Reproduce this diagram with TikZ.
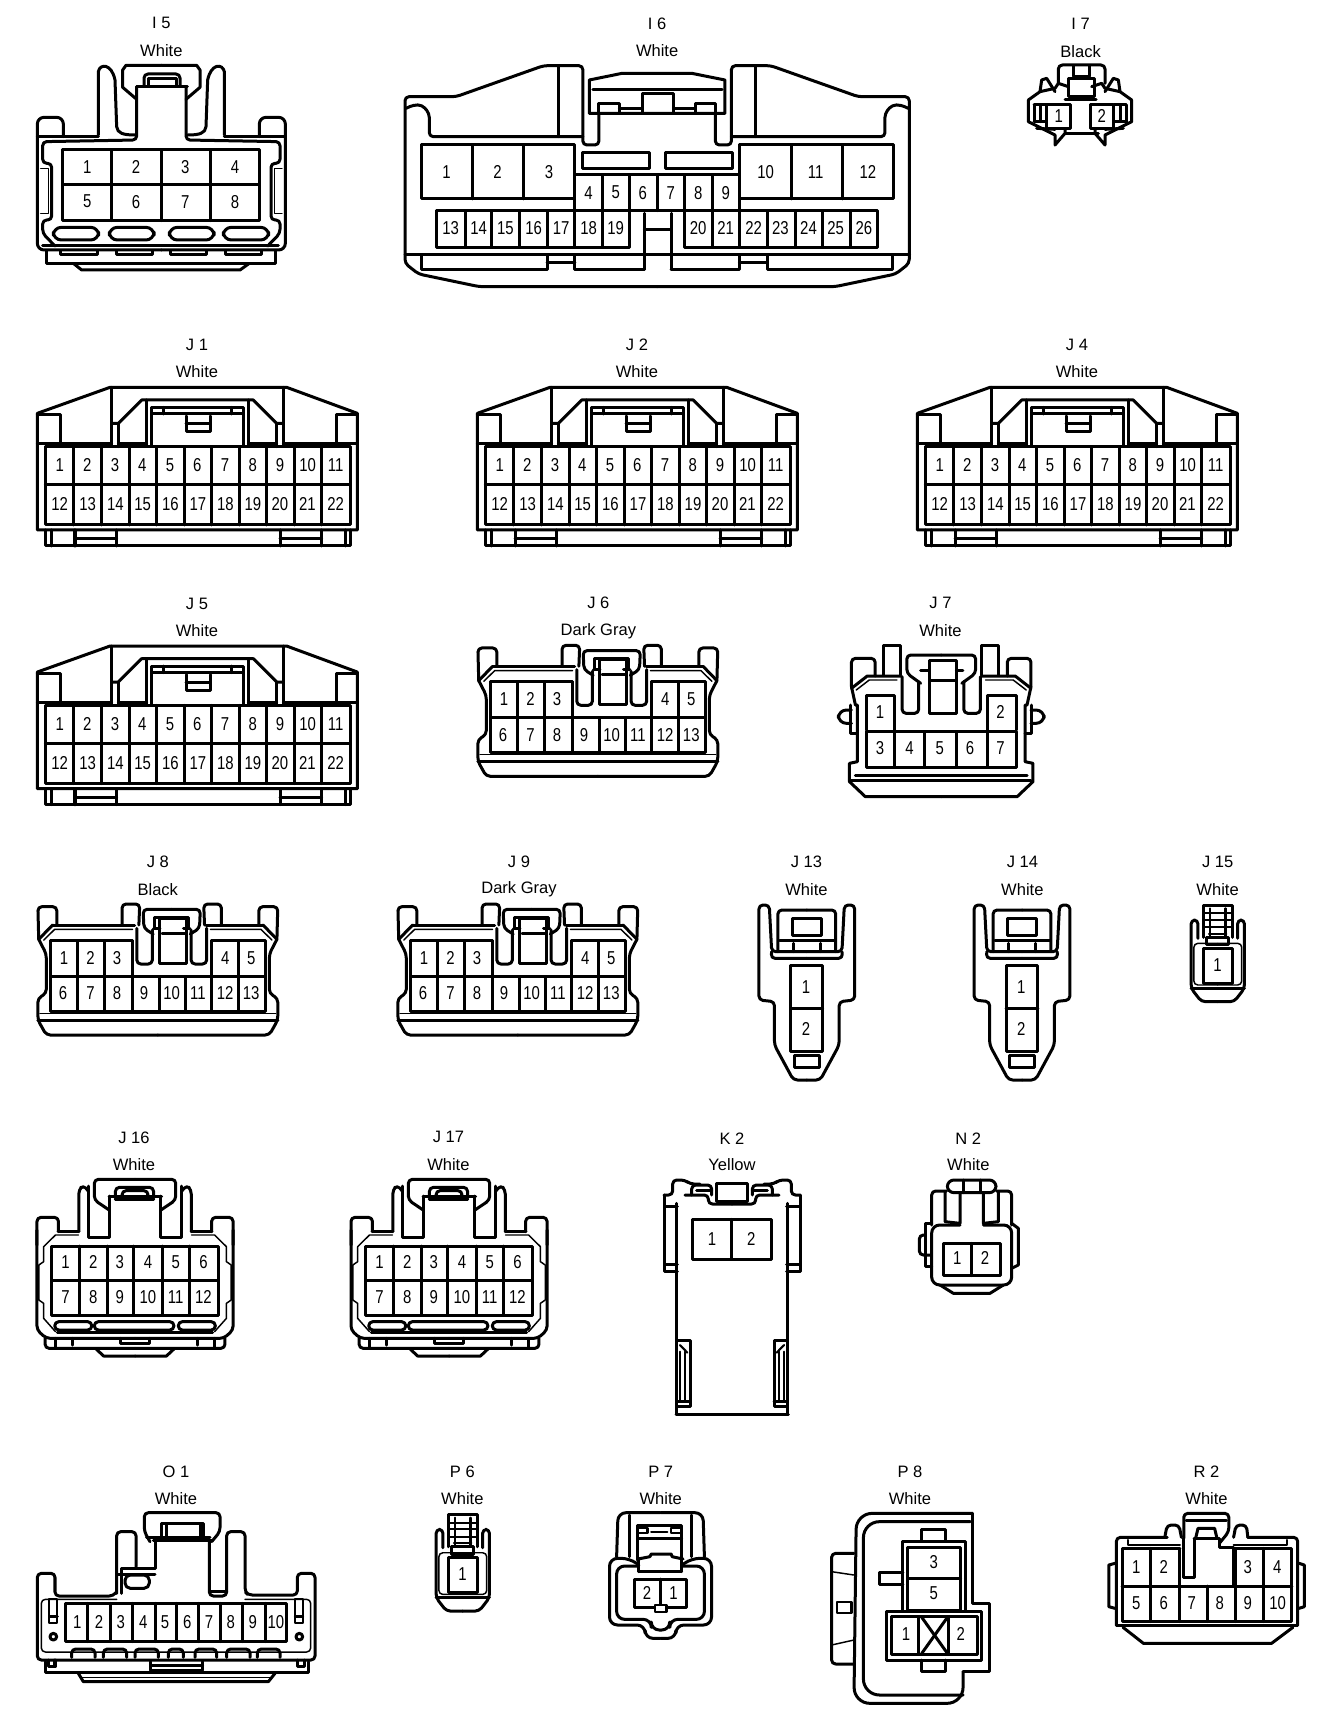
\documentclass[tikz,border=0pt]{standalone}
\usepackage{graphicx}
\usepackage{fontspec}
\setmainfont{Liberation Sans}
\newcount\nc
\tikzset{
  crop/.style n args={3}{shift={(#1,#2)},xscale=#3,yscale=1/3},
  numn/.style={inner sep=0pt,font=\fontsize{14}{14}\selectfont},
  labn/.style={inner sep=0pt,font=\fontsize{12.4}{12.4}\selectfont},
  tn/.style={line width=1.1pt},
  md/.style={line width=1.6pt},
  rc/.style={rounded corners=3pt}
}
\newcommand\nm[3]{\global\advance\nc by 1\relax\node[numn] (n\the\nc) at (#1,#2) {\scalebox{.8}[1]{#3}};}
\newcommand\nmrow[2]{\foreach \xa/\tx in {#2}{\nm{\xa}{#1}{\tx}}}
\newcommand\lab[5]{\global\advance\nc by 1\relax\node[labn] (n\the\nc) at (#1,#2) {#4};\global\advance\nc by 1\relax\node[labn] (n\the\nc) at (#1,#3) {#5};}
\newcommand\mir[2]{#2\begin{scope}[shift={(2*#1,0)},xscale=-1]#2\end{scope}}
\newcommand\vl[3]{\foreach \xa in {#1}{\draw (\xa,#2)--(\xa,#3);}}
% ---- J1 family
\newcommand\JB[2]{\begin{scope}[crop={#1}{330+#2}{1/3}]
\draw (112,600)--(112,250)--(330,172)--(860,172)--(1072,250)--(1072,600)--cycle;
\draw (112,255)--(180,255)--(180,338);
\draw (1072,255)--(1008,255)--(1008,338);
\draw (112,340)--(335,340);\draw (850,340)--(1072,340);
\draw[rc] (335,345)--(335,172);\draw[rc] (850,345)--(850,172);
\draw (335,280)--(355,280)--(425,210)--(760,210)--(830,280)--(850,280);
\draw (355,280)--(355,350);\draw (830,280)--(830,350);
\draw (355,342)--(440,342);\draw (745,342)--(830,342);
\draw (440,210)--(440,345);\draw (745,210)--(745,345);
\draw (455,345)--(455,232)--(730,232)--(730,345);
\draw (455,252)--(730,252);\vl{490,695}{232}{252}
\draw (558,258)--(558,305)--(630,305)--(630,258);\draw (558,280)--(630,280);
\draw (136,350) rectangle (1050,585);\draw (136,465)--(1050,465);
\vl{220,305,388,470,553,635,718,800,883,965}{350}{585}
\nmrow{405}{179/1,262/2,345/3,427/4,510/5,592/6,675/7,758/8,840/9,923/10,1007/11}
\nmrow{522}{179/12,263/13,346/14,428/15,511/16,594/17,676/18,759/19,840/20,922/21,1007/22}
\draw (136,600)--(136,648)--(1050,648)--(1050,600);
\vl{155,225,350,840,965,1035}{600}{648}
\draw (225,625)--(350,625);\draw (840,625)--(965,625);
\end{scope}}
% ---- J8 family
\newcommand\JE[2]{\begin{scope}[crop={#1}{#2}{1/2.376}]
\draw (315,340)--(315,272)--(120,272)--(120,485)--(630,485)--(630,272)--(503,272)--(503,340);
\draw (120,380)--(630,380);\vl{183,248,315,503,567}{272}{485}\vl{378,440}{380}{485}
\draw (380,205)--(380,340)--(442,340)--(442,205)--cycle;\draw (385,250)--(440,250);
\nmrow{323}{152/1,215/2,278/3,535/4,597/5}
\nmrow{430}{150/6,215/7,278/8,342/9,408/10,470/11,535/12,597/13}
\mir{408}{
\draw[rc] (325,235)--(325,342)--(362,342)--(362,240);
\draw[rc] (408,178)--(340,178)--(342,235)--(364,252);
\draw (365,235)--(380,235);
\draw (408,202)--(368,202)--(368,235);
\draw[rc] (290,225)--(290,162)--(332,162)--(330,225);
}
\mir{375}{
\draw (92,268)--(125,225);
\draw[rc] (92,268)--(90,170)--(135,170)--(135,225);
\draw[rc] (92,268)--(110,312)--(110,430)--(90,445)--(90,510)--(110,555)--(375,555);
\draw[tn] (95,490)--(375,490);\draw (90,510)--(375,510);
}
\draw (125,225)--(320,225);\draw (490,225)--(625,225);
\draw[tn] (104,270)--(130,238)--(315,238);\draw[tn] (646,270)--(620,238)--(500,238);
\end{scope}}
% ---- J13 family
\newcommand\JT[2]{\begin{scope}[crop={#1}{#2}{1/2.904}]
\draw (148,345) rectangle (240,605);\draw (148,475)--(240,475);
\nm{192}{410}{1}\nm{192}{537}{2}
\draw (158,615) rectangle (230,652);
\draw (152,205) rectangle (236,255);\draw (115,270)--(275,270);
\mir{194}{
\draw[rc] (194,690)--(155,690)--(100,585)--(100,455)--(55,450)--(55,165)--(85,165)--(92,305)--(194,305);
\draw[rc] (92,305)--(90,325)--(194,325);
\draw[rc] (110,305)--(110,180)--(194,180);
\draw (155,280)--(155,305);
}
\end{scope}}
% ---- J15 family
\newcommand\JF[2]{\begin{scope}[crop={#1}{#2}{1/2.904}]
\draw (1345,262)--(1345,165)--(1430,165)--(1430,262);
\draw[md] (1345,190)--(1430,190);\draw[md] (1345,210)--(1430,210);\draw[md] (1345,232)--(1430,232);\draw[md] (1362,252)--(1412,252);
\draw[md] (1365,175)--(1365,262);\draw[md] (1410,175)--(1410,262);
\draw (1356,262) rectangle (1418,284);
\draw (1345,295) rectangle (1430,400);
\nm{1387}{345}{1}
\mir{1387.5}{
\draw[rc] (1330,265)--(1330,210)--(1310,210)--(1310,415)--(1340,455)--(1387.5,455);
\draw[tn,rc] (1387,280)--(1318,280)--(1318,405)--(1387,405);
\draw (1310,415)--(1387,415);
}
\end{scope}}
% ---- J16 family
\newcommand\JS[2]{\begin{scope}[crop={#1}{#2}{1/2.703}]
\draw (140,348) rectangle (590,555);\draw (140,452)--(590,452);
\vl{215,290,362,438,512}{348}{555}
\nmrow{397}{177/1,252/2,324/3,400/4,475/5,550/6}
\nmrow{500}{177/7,252/8,324/9,400/10,475/11,550/12}
\draw[rc] (312,205)--(312,172)--(415,172)--(415,205);
\draw[rc] (330,182) rectangle (400,205);
\draw (295,198)--(437,198);\draw (312,208)--(415,208);
\draw[rc] (255,575) rectangle (470,600);
\draw (325,625)--(325,640)--(405,640)--(405,625);
\mir{365}{
\draw[rc] (295,240)--(255,210)--(255,148)--(365,148);
\draw (295,198)--(295,322)--(240,322)--(240,168);
\draw[rc] (240,185)--(225,165)--(213,180)--(213,305);
\draw (157,305)--(213,305);
\draw[rc] (100,345)--(100,262)--(158,262)--(158,305);
\draw[rc] (100,300)--(100,600)--(125,625)--(365,625);
\draw[tn] (212,315)--(150,315)--(118,350)--(118,395)--(105,405)--(105,510)--(118,520)--(118,565)--(150,605);
\draw[rc] (148,575) rectangle (248,600);
\draw (155,607)--(365,607);
\draw[rc] (122,625)--(122,655)--(365,655);
\draw (150,625)--(150,655);\draw (195,625)--(195,645);
\draw (258,655)--(280,678)--(365,678);
}
\end{scope}}
\begin{document}
\begin{tikzpicture}[x=.75pt,y=-.75pt,line width=2.25pt,line join=round,line cap=round]
\useasboundingbox (0,0) rectangle (1344,1726);
\fill[white] (0,0) rectangle (1344,1726);
% ---------- I5
\begin{scope}[crop={0}{0}{1/3}]
\lab{484}{70}{153}{I 5}{White}
\draw (188,450) rectangle (778,662);\draw (188,555)--(778,555);\vl{335,484,630}{450}{662}
\nmrow{500}{262/1,408/2,556/3,705/4}\nmrow{605}{262/5,408/6,556/7,705/8}
\draw[rc] (432,255)--(432,222)--(540,222)--(540,255);\draw (445,236)--(528,236);\draw (445,236)--(445,255);\draw (528,236)--(528,255);
\draw (410,260)--(562,260);
\draw[rounded corners=6pt] (160,682) rectangle (296,720);\draw[rounded corners=6pt] (328,682) rectangle (462,720);
\draw[rounded corners=6pt] (508,682) rectangle (642,720);\draw[rounded corners=6pt] (670,682) rectangle (806,720);
\draw (128,738)--(835,738);
\draw (140,752)--(140,790)--(825,790)--(825,752);
\draw (182,752)--(182,765)--(292,765)--(292,752);\draw (350,752)--(350,765)--(458,765)--(458,752);
\draw (512,752)--(512,765)--(618,765)--(618,752);\draw (675,752)--(675,765)--(785,765)--(785,752);
\draw (220,790)--(245,810)--(720,810)--(748,790);
\mir{484}{
\draw (295,405)--(295,215) .. controls (300,190) and (335,190) .. (345,240)--(350,380) .. controls (352,400) and (370,405) .. (405,405);
\draw (410,298)--(368,262)--(368,210)--(378,196)--(484,196);
\draw[rc] (410,260)--(410,420)--(128,425)--(128,490)--(155,490)--(155,660)--(128,660)--(128,700)--(165,738);
\draw[tn] (122,505)--(145,505)--(145,640)--(122,640);
\draw (112,410)--(295,410);
\draw[rounded corners=5pt] (190,410)--(190,352)--(112,352)--(112,750)--(484,750);
}
\end{scope}
% ---------- I6
\begin{scope}[crop={390}{0}{1/2.8}]
\lab{748}{70}{153}{I 6}{White}
\draw (558,340)--(558,240)--(650,220)--(845,220)--(938,240)--(938,340)--cycle;
\draw (568,268)--(930,268);
\draw (706,335)--(706,280)--(795,280)--(795,335);
\draw (585,340)--(585,310)--(642,310)--(642,335);\draw (912,340)--(912,310)--(855,310)--(855,335);
\draw (642,325)--(706,325);\draw (795,325)--(855,325);
\draw (88,435) rectangle (518,597);\vl{230,373}{435}{597}
\draw (978,435) rectangle (1410,597);\vl{1125,1268}{435}{597}
\nmrow{515}{158/1,301/2,445/3,1052/10,1192/11,1338/12}
\draw (540,458) rectangle (727,505);\draw (772,458) rectangle (960,505);
\draw (518,525)--(978,525);
\vl{518,595,672,748,825,902,978}{525}{632}
\draw (130,632) rectangle (672,742);\vl{210,285,362,440,518,595}{632}{742}
\draw (825,632) rectangle (1365,742);\vl{902,978,1057,1135,1212,1290}{632}{742}
\draw (672,632)--(825,632);
\nmrow{578}{556/4,632/5,708/6,786/7,863/8,940/9}
\nmrow{685}{170/13,248/14,323/15,402/16,479/17,556/18,632/19,863/20,940/21,1018/22,1093/23,1172/24,1248/25,1327/26}
\draw (712,688)--(787,688);
\draw (42,765)--(1455,765);
\draw (88,765)--(88,808)--(440,808)--(440,765);\draw (440,788)--(518,788);\draw (518,765)--(518,808)--(712,808);
\draw (787,808)--(978,808)--(978,765);\draw (978,788)--(1057,788);\draw (1057,765)--(1057,808)--(1408,808)--(1408,765);
\vl{712,787}{640}{808}
\mir{748}{
\draw[rc] (748,860)--(250,860)--(80,822)--(42,790)--(42,290)--(185,290)--(430,197)--(540,197)--(540,435)--(585,435)--(585,340);
\draw[rc] (45,325)--(65,315)--(90,315)--(110,340)--(110,410)--(540,410);
\draw (473,197)--(473,410);
}
\end{scope}
% ---------- I7
\begin{scope}[crop={1020}{50}{1/3}]
\lab{182}{-80}{5}{I 7}{Black}
\draw[rc] (115,100)--(115,45)--(255,45)--(255,100);
\draw (160,48)--(160,80)--(207,80)--(207,48);
\draw (145,85) rectangle (222,140);
\draw (78,165) rectangle (150,235);\draw (210,165) rectangle (280,235);
\nm{116}{198}{1}\nm{245}{198}{2}
\draw (135,150)--(228,150);\draw (135,250)--(235,250);
\mir{180}{
\draw (60,125)--(65,90)--(80,85)--(105,125);
\draw (25,150)--(60,125)--(105,115)--(115,100);
\draw (115,100)--(145,110);
\draw (25,150)--(25,215)--(105,255)--(105,285)--(135,250)--(135,238);
\draw (42,165)--(42,215);\draw (60,165)--(60,215);\draw (42,165)--(78,165);\draw (42,215)--(78,215);
\draw (50,235)--(105,238);
}
\end{scope}
% ---------- J1 J2 J4 J5
\JB{0}{0}\lab{197}{345}{372}{J 1}{White}
\JB{440}{0}\lab{637}{345}{372}{J 2}{White}
\JB{880}{0}\lab{1077}{345}{372}{J 4}{White}
\JB{0}{258.7}\lab{197}{603.7}{630.7}{J 5}{White}
% ---------- J6 J8 J9
\JE{440}{850-258.7}\lab{598.4}{603}{631}{J 6}{Dark Gray}
\JE{0}{850}\lab{157.8}{862}{889.3}{J 8}{Black}
\JE{360}{850}\lab{519}{862}{889.3}{J 9}{Dark Gray}
% ---------- J7
\begin{scope}[crop={460}{590}{1/2.529}]
\lab{1215}{40}{123}{J 7}{White}
\draw (1027,420)--(1027,315)--(1100,315)--(1100,420);
\draw (1335,420)--(1335,315)--(1408,315)--(1408,420);
\draw (1027,425) rectangle (1408,532);\vl{1100,1175,1255,1335}{425}{532}
\nm{1062}{365}{1}\nm{1367}{365}{2}
\nmrow{475}{1062/3,1137/4,1213/5,1290/6,1367/7}
\draw (1187,210) rectangle (1255,370);\draw (1190,270)--(1255,270);
\draw (1165,240)--(1187,240);\draw (1255,240)--(1272,240);
\mir{1217}{
\draw[rc] (1118,260)--(1118,370)--(1160,370)--(1160,275);
\draw[rc] (1217,195)--(1130,195)--(1130,250)--(1165,280);
\draw (1072,255)--(1072,165)--(1115,165)--(1115,255);
\draw[rc] (990,290)--(990,205)--(1050,205)--(1050,258);
\draw (990,295)--(1030,258)--(1115,258);
\draw[tn] (1002,300)--(1035,270)--(1105,270);
\draw (990,290)--(1000,345)--(1005,345)--(1005,515)--(985,520)--(985,575)--(1025,620)--(1217,620);
\draw[rounded corners=6pt] (990,360)--(957,360)--(957,400)--(990,400);
\draw (988,345)--(988,430)--(1005,430);
\draw (1000,555)--(1217,555);\draw (990,572)--(1217,572);
}
\end{scope}
% ---------- J13 J14 J15
\JT{740}{850}\JT{955.2}{850}
\begin{scope}[crop={740}{850}{1/2.904}]
\lab{193}{36}{118}{J 13}{White}\lab{820}{36}{118}{J 14}{White}\lab{1387}{36}{118}{J 15}{White}
\end{scope}
\JF{740}{850}
% ---------- J16 J17
\JS{0}{1130}\JS{314}{1130}
\begin{scope}[crop={0}{1130}{1/2.703}]
\lab{362}{22}{105}{J 16}{White}\lab{1212}{22}{105}{J 17}{White}
\end{scope}
% ---------- K2
\begin{scope}[crop={650}{1130}{1/3}]
\lab{246}{25}{105}{K 2}{Yellow}
\draw (127,268) rectangle (365,388);\draw (245,268)--(245,388);
\nm{186}{327}{1}\nm{304}{327}{2}
\draw (200,160) rectangle (292,215);
\draw (78,852)--(415,852);
\mir{246}{
\draw[rc] (105,195)--(175,195)--(175,222)--(246,222);
\draw[rc] (125,195)--(125,165)--(185,165)--(185,195);
\draw (140,180)--(185,180);
\draw[rc] (42,195)--(68,195)--(68,150)--(105,150)--(120,162)--(150,162);
\draw (42,195)--(42,425)--(82,425);
\draw (45,230)--(82,230);\draw (45,402)--(82,402);
\draw (80,220)--(80,852);
\draw (82,632)--(120,632)--(120,828)--(82,828);
\draw[md] (90,665)--(90,815);\draw[md] (105,665)--(105,815);\draw[md] (90,645)--(112,668);
\draw (82,815)--(120,815);
}
\end{scope}
% ---------- N2
\begin{scope}[crop={650}{1130}{1/3}]
\lab{955}{25}{105}{N 2}{White}
\draw[rounded corners=5pt] (892,150) rectangle (1038,188);\vl{940,990}{150}{188}
\draw[rc] (845,285)--(845,183)--(890,183);\draw (885,185)--(885,275)--(930,280)--(930,188);
\draw (1000,188)--(1000,280)--(1045,275)--(1045,185);\draw[rc] (1040,183)--(1085,183)--(1085,285);
\draw[rounded corners=6pt] (930,285)--(845,285)--(845,465)--(1085,465)--(1085,285)--(1000,285);
\draw (845,280)--(825,280)--(825,410)--(845,410);
\draw[rc] (825,315)--(808,315)--(808,375)--(840,375);
\draw (1085,280)--(1105,295)--(1105,405)--(1085,415);
\draw (870,465)--(910,490)--(1020,490)--(1060,465);
\draw (880,340) rectangle (1050,437);\draw (965,340)--(965,437);
\nm{922}{385}{1}\nm{1005}{385}{2}
\end{scope}
% ---------- O1
\begin{scope}[crop={0}{1460}{1/3}]
\lab{528}{35}{117}{O 1}{White}
\draw[rc] (450,245)--(433,215)--(433,158)--(660,158)--(660,215)--(635,245);
\draw (485,230)--(485,190)--(610,190)--(610,230);\vl{500,600}{195}{228}
\draw (440,232)--(630,232);\draw (460,242)--(635,242);
\draw (465,245)--(465,325)--(365,325)--(365,400);
\draw[rc] (350,400)--(350,215)--(408,215)--(408,320);
\draw[rc] (355,342)--(465,342);
\draw[rounded corners=4pt] (375,345) rectangle (448,385);
\draw[rc] (350,395)--(340,408)--(165,408)--(165,340)--(112,340)--(112,600)--(945,600)--(945,340)--(892,340)--(892,405)--(745,405)--(735,395)--(735,215)--(680,215)--(680,408)--(628,408)--(628,245);
\draw (632,395)--(680,395);
\draw[tn,rc] (350,418)--(124,418)--(124,576)--(932,576)--(932,418)--(735,418);
\draw (195,430) rectangle (860,545);\vl{262,330,398,465,530,595,662,728,795}{430}{545}
\nmrow{487}{232/1,297/2,362/3,430/4,495/5,562/6,627/7,692/8,758/9,828/10}
\foreach \a/\b in {215/285,310/380,405/475,505/550,585/650,680/750,772/840}{\draw[rc] (\a,592)--(\a,567)--(\b,567)--(\b,592);}
\draw (135,605)--(135,637)--(925,637)--(925,605);
\draw (145,600)--(145,620)--(165,620)--(165,600);\draw (892,600)--(892,620)--(912,620)--(912,600);
\draw (452,605)--(452,630)--(608,630)--(608,605);\draw (452,617)--(608,617);
\draw (235,640)--(250,665)--(805,665)--(825,640);\draw[tn] (245,653)--(815,653);
\mir{529}{
\draw[md] (148,418)--(148,490)--(172,490)--(172,418)--cycle;
\draw (150,470)--(172,470);
\draw (160,530) circle [radius=10];
}
\end{scope}
% ---------- P6
\JF{-15}{1459.4}
\begin{scope}[crop={0}{1460}{1/3}]
\lab{1387}{35}{117}{P 6}{White}
\end{scope}
% ---------- P7 P8 R2
\begin{scope}[crop={600}{1460}{1/2.107}]
\lab{128}{35}{117}{P 7}{White}\lab{653}{35}{117}{P 8}{White}\lab{1278}{35}{117}{R 2}{White}
% P7
\draw (80,300)--(80,195)--(172,195)--(172,300);
\draw[md] (80,205) rectangle (100,220);\draw[md] (150,205) rectangle (172,220);\draw[md] (108,215)--(142,215);
\draw (80,235)--(172,235);
\draw (80,297)--(105,290)--(108,282)--(150,282)--(152,290)--(175,297);
\draw (82,335)--(172,335);\draw (82,300)--(82,335);\draw (172,300)--(172,335);
\draw (72,357) rectangle (182,442);\draw (127,357)--(127,442);
\nm{99}{400}{2}\nm{155}{400}{1}
\draw[md,fill=white] (115,435) rectangle (140,455);
\mir{127.5}{
\draw[rounded corners=6pt] (35,290)--(38,158)--(127,158);
\draw[rounded corners=4pt] (62,290)--(62,165);
\draw[rounded corners=6pt] (82,315)--(62,295)--(20,295)--(20,495)--(95,495)--(95,535)--(127,535);
\draw[rounded corners=6pt] (80,318)--(35,318)--(35,478)--(108,478)--(108,510)--(127,510);
}
% P8
\draw[rounded corners=12pt] (785,160)--(540,160)--(535,730)--(765,730)--(765,635);
\draw (785,160)--(785,430)--(820,430)--(820,635)--(765,635);
\draw[rounded corners=12pt] (780,185)--(555,185)--(555,705)--(765,705);
\draw[rc] (535,280)--(488,280)--(488,612)--(535,612);
\draw[tn] (488,335)--(535,345);\draw[tn] (488,555)--(535,540);
\draw[md] (500,425) rectangle (530,460);
\draw (638,243) rectangle (770,455);\draw (648,262) rectangle (760,450);\draw (648,355)--(760,355);
\nm{703}{307}{3}\nm{703}{400}{5}
\draw (678,240)--(678,207)--(728,207)--(728,240);
\draw (638,337)--(588,337)--(588,373)--(638,373);
\draw (604,455) rectangle (804,600);\draw (614,470) rectangle (795,583);
\vl{672,735}{470}{583}
\draw (678,472)--(732,580);\draw (732,472)--(678,580);
\nm{645}{523}{1}\nm{760}{523}{2}
\draw (678,600)--(678,635)--(728,635)--(728,600);
% R2
\draw[rc] (1088,495)--(1088,232)--(1195,232);
\draw[rc] (1470,495)--(1470,232)--(1365,232);
\draw[rc] (1190,232)--(1195,195)--(1220,195)--(1225,232);
\draw[rc] (1335,232)--(1340,195)--(1362,195)--(1365,232);
\draw[rc] (1230,235)--(1230,160)--(1325,160)--(1325,215)--(1305,250);
\draw (1235,182)--(1320,182);
\draw (1230,352)--(1252,352)--(1252,235);\draw (1230,235)--(1230,352);
\draw (1255,235)--(1260,205)--(1295,205)--(1300,235);\draw (1252,235)--(1305,235)--(1305,262)--(1335,262);
\draw (1222,265)--(1100,265)--(1100,485)--(1458,485)--(1458,265)--(1335,265)--(1335,378);
\draw (1100,378)--(1458,378);
\vl{1160,1220,1338,1398}{265}{485}\vl{1280}{378}{485}
\nmrow{320}{1130/1,1188/2,1365/3,1427/4}
\nmrow{428}{1130/5,1188/6,1247/7,1306/8,1365/9,1428/10}
\draw (1085,310)--(1072,315)--(1072,440)--(1085,445);
\draw (1473,310)--(1484,315)--(1484,440)--(1473,445);
\draw (1088,495)--(1470,495);
\draw (1102,502)--(1145,550)--(1415,550)--(1460,502);
\draw[md] (1112,240)--(1112,255)--(1222,255);
\draw[md] (1335,255)--(1448,255)--(1448,240);
\end{scope}
\end{tikzpicture}
\end{document}
